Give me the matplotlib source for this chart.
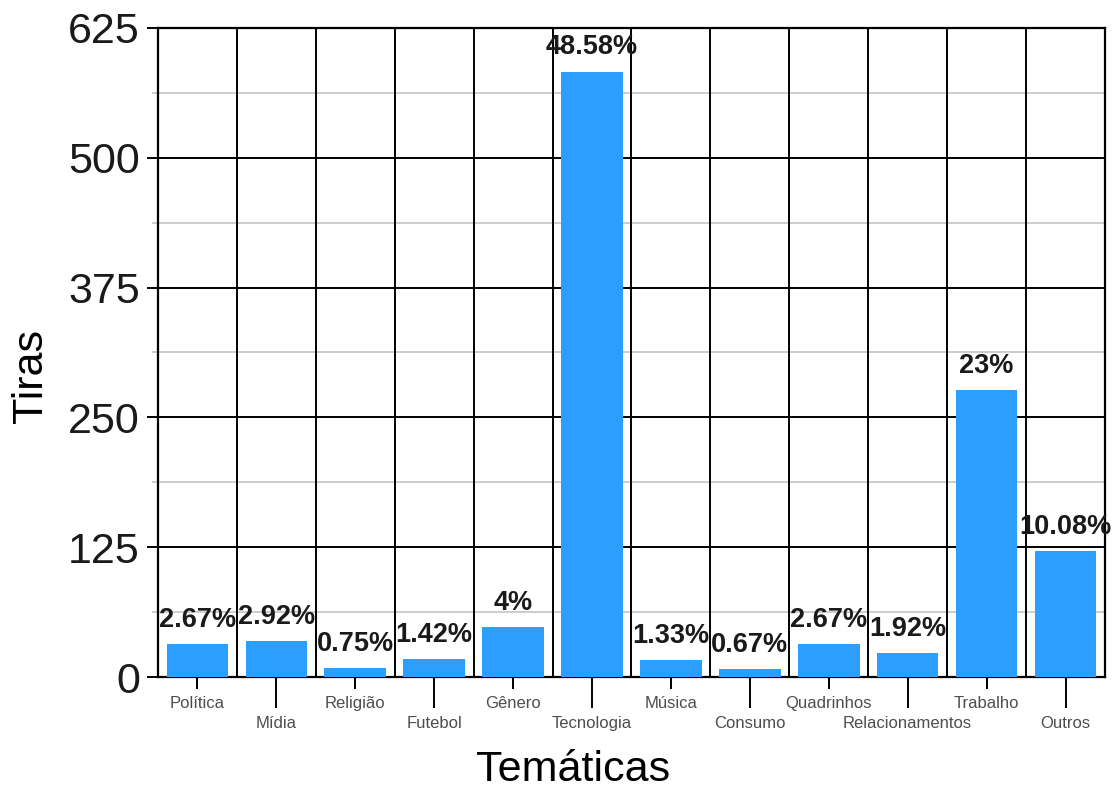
import numpy as np
import matplotlib.pyplot as plt

plt.rcParams['font.family'] = ['Liberation Sans', 'DejaVu Sans']

tematicas = ['Política', 'Mídia', 'Religião', 'Futebol', 'Gênero', 'Tecnologia',
             'Música', 'Consumo', 'Quadrinhos', 'Relacionamentos', 'Trabalho', 'Outros']
tiras = [32, 35, 9, 17, 48, 583, 16, 8, 32, 23, 276, 121]
y_ticks = [0, 125, 250, 375, 500, 625]

total = sum(tiras)
rotulos = []
for v in tiras:
    p = round(v / total * 100, 2)
    rotulos.append(('%.2f' % p).rstrip('0').rstrip('.') + '%')

fig = plt.figure(figsize=(11.2, 7.9), dpi=100)
ax = fig.add_axes([0.141, 0.143, 0.8456, 0.8216])

x = np.arange(1, len(tematicas) + 1)
ax.bar(x, tiras, width=0.78, color='#2b9eff', zorder=3)

for xi, v, r in zip(x, tiras, rotulos):
    ax.annotate(r, (xi, v), xytext=(0, 8), textcoords='offset points',
                ha='center', va='bottom', fontsize=19.5, fontweight='bold',
                color='#1a1a1a', zorder=4)

ax.set_xlim(0.5, len(tematicas) + 0.5)
ax.set_ylim(0, 625)

# black boundaries between categories
for b in np.arange(1.5, len(tematicas), 1.0):
    ax.axvline(b, color='black', lw=1.4, zorder=2)

for s in ax.spines.values():
    s.set_color('black')
    s.set_linewidth(1.6)

ax.set_yticks(y_ticks)
ax.set_yticks([62.5 + 125 * i for i in range(5)], minor=True)
ax.yaxis.grid(True, which='major', color='black', lw=1.4, zorder=1)
ax.yaxis.grid(True, which='minor', color='#c4c4c4', lw=1.2, zorder=1)
ax.tick_params(axis='y', which='major', length=8, width=1.4, labelsize=31,
               labelcolor='#1a1a1a', pad=5)
ax.tick_params(axis='y', which='minor', length=4, width=1.2, color='#c4c4c4')

# alternate rows of category labels
ax.set_xticks(x[0::2], labels=tematicas[0::2])
ax.set_xticks(x[1::2], labels=tematicas[1::2], minor=True)
ax.tick_params(axis='x', which='major', length=8.5, width=1.4, labelsize=12,
               labelcolor='#4d4d4d', pad=5)
ax.tick_params(axis='x', which='minor', length=22, width=1.4, labelsize=12,
               labelcolor='#4d4d4d', pad=6)

ax.set_xlabel('Temáticas', fontsize=31, va='center')
ax.set_ylabel('Tiras', fontsize=31, va='center')
ax.xaxis.set_label_coords(0.438, -0.143)
ax.yaxis.set_label_coords(-0.134, 0.464)

fig.savefig('out.png', dpi=100)
